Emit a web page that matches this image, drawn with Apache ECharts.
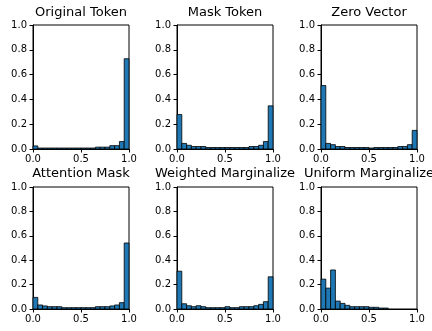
<!DOCTYPE html>
<html><head><meta charset="utf-8">
<script src="https://cdn.jsdelivr.net/npm/echarts@6/dist/echarts.min.js"></script>
<style>html,body{margin:0;padding:0;background:#fff}#c{width:432px;height:331px}</style>
</head><body><div id="c"></div>
<script>
const titles = ["Original Token","Mask Token","Zero Vector","Attention Mask","Weighted Marginalize","Uniform Marginalize"];
const binLeft = [0,0.05,0.1,0.15,0.2,0.25,0.3,0.35,0.4,0.45,0.5,0.55,0.6,0.65,0.7,0.75,0.8,0.85,0.9,0.95];
const binWidth = 0.05;
const originalToken = [0.025,0.008,0.008,0.008,0.008,0.008,0.008,0.008,0.008,0.008,0.008,0.008,0.008,0.015,0.015,0.015,0.027,0.027,0.06,0.728];
const maskToken = [0.278,0.045,0.03,0.02,0.02,0.02,0.012,0.012,0.012,0.012,0.012,0.012,0.012,0.012,0.012,0.02,0.02,0.03,0.06,0.348];
const zeroVector = [0.512,0.045,0.035,0.02,0.02,0.012,0.012,0.012,0.012,0.012,0.008,0.012,0.012,0.012,0.012,0.012,0.02,0.02,0.035,0.15];
const attentionMask = [0.095,0.033,0.025,0.019,0.019,0.019,0.011,0.011,0.011,0.011,0.011,0.011,0.011,0.019,0.019,0.019,0.025,0.033,0.052,0.541];
const weightedMarginalize = [0.31,0.043,0.027,0.019,0.027,0.019,0.011,0.011,0.011,0.011,0.019,0.011,0.011,0.019,0.019,0.019,0.027,0.038,0.06,0.264];
const uniformMarginalize = [0.245,0.171,0.32,0.065,0.046,0.03,0.019,0.019,0.019,0.019,0.014,0.014,0.008,0.008,0,0,0,0,0,0];
const allSeries = [originalToken,maskToken,zeroVector,attentionMask,weightedMarginalize,uniformMarginalize];

const lefts = [33,177,321];
const tops = [25,187];
const heights = [124,122];
const titleY = [13,174];
const W = 96;
const FONT = "DejaVu Sans";

const option = {animation:false, backgroundColor:'#fff', graphic:[], grid:[], xAxis:[], yAxis:[], series:[]};
for (let i=0;i<6;i++){
  const r = Math.floor(i/3), c = i%3;
  option.graphic.push({type:'text', x:lefts[c]+W/2, y:titleY[r], z:100,
    style:{text:titles[i], fontFamily:FONT, fontSize:13, fill:'#000', align:'center', verticalAlign:'middle'}});
  option.grid.push({left:lefts[c], top:tops[r], width:W, height:heights[r], show:true, borderColor:'#000', borderWidth:1, backgroundColor:'transparent'});
  option.xAxis.push({type:'value', gridIndex:i, min:0, max:1, interval:0.5,
    axisLine:{show:true,lineStyle:{color:'#000',width:1}},
    axisTick:{show:true,inside:false,length:3.5,lineStyle:{color:'#000',width:1}},
    splitLine:{show:false},
    axisLabel:{fontFamily:FONT,fontSize:10,color:'#000',margin:5,formatter:v=>v.toFixed(1)}});
  option.yAxis.push({type:'value', gridIndex:i, min:0, max:1, interval:0.2,
    axisLine:{show:true,lineStyle:{color:'#000',width:1}},
    axisTick:{show:true,inside:false,length:3.5,lineStyle:{color:'#000',width:1}},
    splitLine:{show:false},
    axisLabel:{fontFamily:FONT,fontSize:10,color:'#000',margin:6,formatter:v=>v.toFixed(1)}});
  const data = binLeft.map((x,k)=>[x, x+binWidth, allSeries[i][k]]);
  option.series.push({type:'custom', xAxisIndex:i, yAxisIndex:i, data:data,
    renderItem:function(params, api){
      const y = api.value(2);
      if (!(y>0)) return null;
      const p0 = api.coord([api.value(0), y]);
      const p1 = api.coord([api.value(1), 0]);
      return {type:'rect', shape:{x:p0[0], y:p0[1], width:p1[0]-p0[0], height:p1[1]-p0[1]},
        style:{fill:'#1f77b4', stroke:'#000', lineWidth:0.8}};
    }});
}
const chart = echarts.init(document.getElementById('c'), null, {renderer:'canvas'});
chart.setOption(option);
</script></body></html>
